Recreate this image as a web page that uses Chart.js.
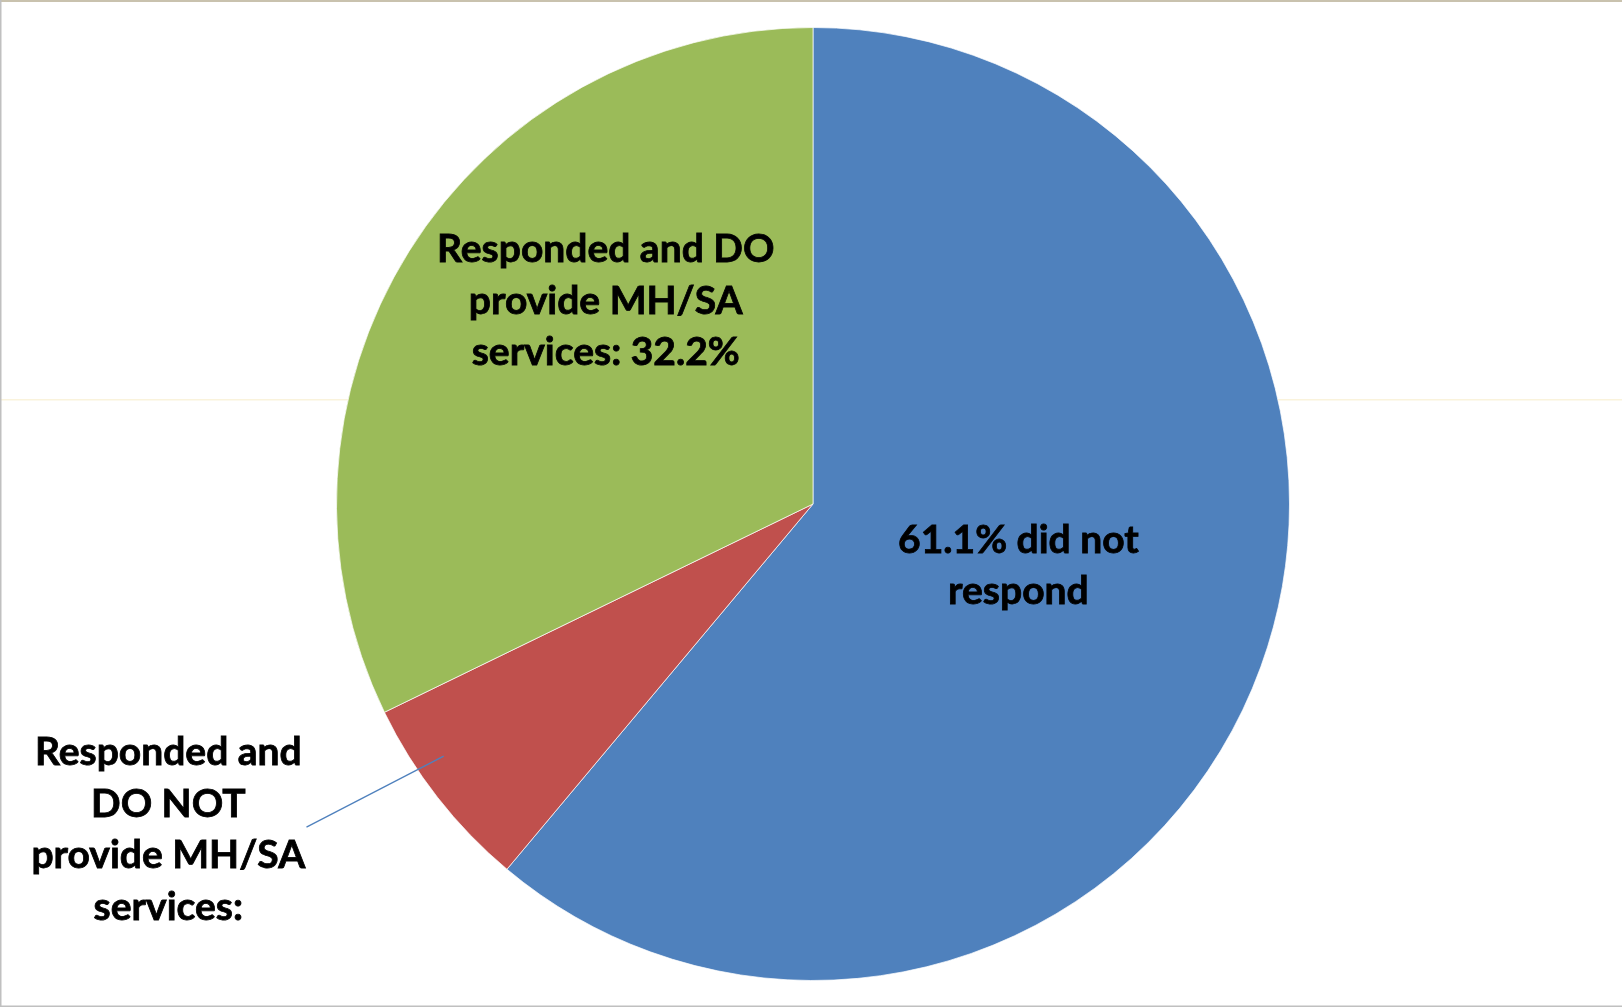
<!DOCTYPE html>
<html>
<head>
<meta charset="utf-8">
<script src="https://cdn.jsdelivr.net/npm/chart.js@4.4.1/dist/chart.umd.min.js"></script>
<style>
  html, body { margin: 0; padding: 0; background: #fff; }
  #wrap { width: 1622px; height: 1007px; position: relative; }
</style>
</head>
<body>
<div id="wrap"><canvas id="pieChart" width="1622" height="1007"></canvas></div>
<script>
// survey response split, clockwise from 12 o'clock
const categories = ['did not respond', 'Responded and DO NOT provide MH/SA services', 'Responded and DO provide MH/SA services'];
const shares = [61.1, 6.7, 32.2];
const sliceColors = ['#4F81BD', '#C0504D', '#9BBB59'];

// text shown on / beside each slice
const sliceLabels = [
  [shares[0] + '% did not', 'respond'],
  ['Responded and', 'DO NOT', 'provide MH/SA', 'services:'],
  ['Responded and DO', 'provide MH/SA', 'services: ' + shares[2] + '%']
];

// where each label block sits, as fractions of the radius from the centre
const labelSpots = [
  { dx: 0.431, dy: 0.13 },
  { dx: -1.353, dy: 0.684, leader: { from: [-1.063, 0.678], to: [-0.775, 0.529] } },
  { dx: -0.435, dy: -0.426 }
];

const frame = {
  id: 'frame',
  beforeDraw(chart) {
    const ctx = chart.ctx;
    ctx.save();
    // faint rule across the middle
    ctx.fillStyle = '#faf3dc';
    ctx.fillRect(0, 399, chart.width, 1.5);
    // outer edges
    ctx.fillStyle = '#c9c2ae';
    ctx.fillRect(0, 0, chart.width, 2);
    ctx.fillStyle = '#c0c0c0';
    ctx.fillRect(0, 0, 1.5, chart.height);
    ctx.fillRect(0, chart.height - 1.5, chart.width, 1.5);
    ctx.restore();
  }
};

const sliceText = {
  id: 'sliceText',
  afterDatasetsDraw(chart) {
    const ctx = chart.ctx;
    const arc = chart.getDatasetMeta(0).data[0];
    const cx = arc.x, cy = arc.y, r = arc.outerRadius;
    ctx.save();
    ctx.font = 'bold 39px Lato, "Open Sans", sans-serif';
    ctx.fillStyle = '#000';
    ctx.strokeStyle = '#000';
    ctx.lineWidth = 0.8;
    ctx.textAlign = 'center';
    ctx.textBaseline = 'middle';
    const lineH = 51.5;
    sliceLabels.forEach((lines, i) => {
      const spot = labelSpots[i];
      const x = cx + spot.dx * r;
      const y0 = cy + spot.dy * r - (lines.length - 1) * lineH / 2;
      lines.forEach((t, k) => {
        ctx.fillText(t, x, y0 + k * lineH);
        ctx.strokeText(t, x, y0 + k * lineH);
      });
      if (spot.leader) {
        ctx.strokeStyle = '#4F81BD';
        ctx.lineWidth = 1.3;
        ctx.beginPath();
        ctx.moveTo(cx + spot.leader.from[0] * r, cy + spot.leader.from[1] * r);
        ctx.lineTo(cx + spot.leader.to[0] * r, cy + spot.leader.to[1] * r);
        ctx.stroke();
        ctx.strokeStyle = '#000';
        ctx.lineWidth = 0.8;
      }
    });
    ctx.restore();
  }
};

new Chart(document.getElementById('pieChart'), {
  type: 'pie',
  data: {
    labels: categories,
    datasets: [{
      data: shares,
      backgroundColor: sliceColors,
      borderColor: 'rgba(255,255,255,0.7)',
      borderWidth: 1
    }]
  },
  options: {
    responsive: false,
    animation: false,
    layout: { padding: { top: 27, bottom: 26, left: 4, right: 0 } },
    plugins: {
      legend: { display: false },
      tooltip: { enabled: false }
    }
  },
  plugins: [frame, sliceText]
});
</script>
</body>
</html>
